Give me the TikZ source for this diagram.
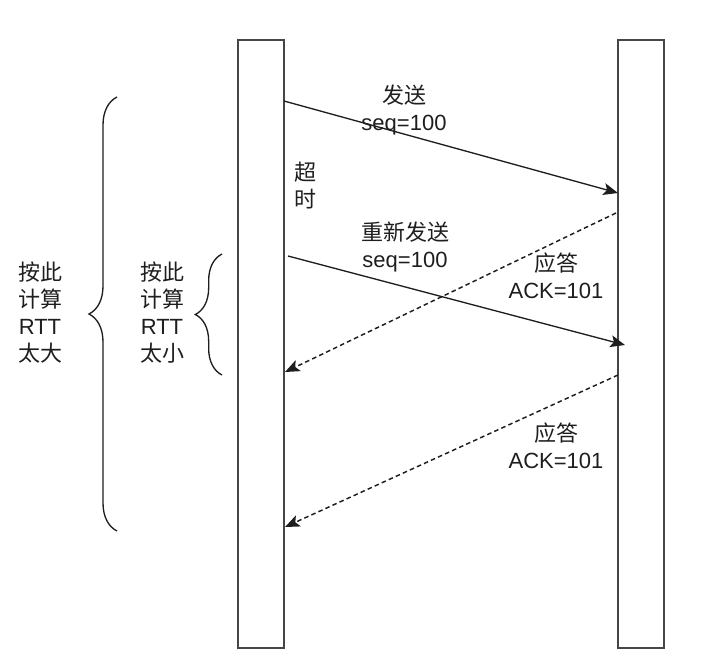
\documentclass[tikz,border=0pt]{standalone}
\usepackage{fontspec}
\setmainfont{Liberation Sans}
\newfontfamily\cjk{Noto Sans CJK SC}
\usetikzlibrary{
    arrows.meta,
    decorations.pathreplacing
}
\definecolor{ink}{RGB}{30, 30, 30}
\definecolor{barline}{RGB}{70, 70, 70}

\begin{document}
\begin{tikzpicture}[x=0.75pt, y=-0.75pt,
    bar/.style={rectangle, draw=barline, line width=1.1pt, inner sep=0pt,
                minimum width=34.5pt, minimum height=456pt},
    msg/.style={-{Stealth[length=11pt, width=9pt, inset=2.5pt]}, line width=1pt, ink},
    ack/.style={msg, dash pattern=on 3.4pt off 2.4pt, line width=1.1pt},
    lbl/.style={font=\fontsize{16.5}{20.25}\selectfont, align=center, inner sep=0pt, text=ink},
    brc/.style={decorate, decoration={brace, amplitude=#1}, line width=1pt, ink}
]
\useasboundingbox (0,0) rectangle (710,658);

% ============================================
% TIME LINES (sender / receiver)
% ============================================
\node[bar] (client) at (261, 344) {};
\node[bar] (server) at (641, 344) {};

% message end points on the bars
\coordinate (c1) at (284, 101);
\coordinate (s1) at (618, 193);
\coordinate (s2) at (616, 213);
\coordinate (c2) at (285, 372);
\coordinate (c3) at (288, 256);
\coordinate (s3) at (625, 345);
\coordinate (s4) at (618, 375);
\coordinate (c4) at (285, 527);

% ============================================
% MESSAGES
% ============================================
\draw[msg] (c1) -- (s1);
\draw[ack] (s2) -- (c2);
\draw[msg] (c3) -- (s3);
\draw[ack] (s4) -- (c4);

\node[lbl] (send) at (404, 110) {{\cjk 发送}\\seq=100};
\node[lbl] (timeout) at (305, 186) {\cjk 超\\\cjk 时};
\node[lbl] (resend) at (405, 247) {{\cjk 重新发送}\\seq=100};
\node[lbl] (ack1) at (556, 276) {{\cjk 应答}\\ACK=101};
\node[lbl] (ack2) at (556, 446) {{\cjk 应答}\\ACK=101};

% ============================================
% RTT BRACES
% ============================================
\coordinate (bigtop) at (117, 97);
\coordinate (bigbot) at (117, 531);
\coordinate (smalltop) at (222, 254);
\coordinate (smallbot) at (222, 375);
\draw[brc=21pt] (bigbot) -- (bigtop);
\draw[brc=20pt] (smallbot) -- (smalltop);

\node[lbl] (big) at (40, 313) {{\cjk 按此}\\{\cjk 计算}\\RTT\\{\cjk 太大}};
\node[lbl] (small) at (162, 313) {{\cjk 按此}\\{\cjk 计算}\\RTT\\{\cjk 太小}};

\end{tikzpicture}
\end{document}
